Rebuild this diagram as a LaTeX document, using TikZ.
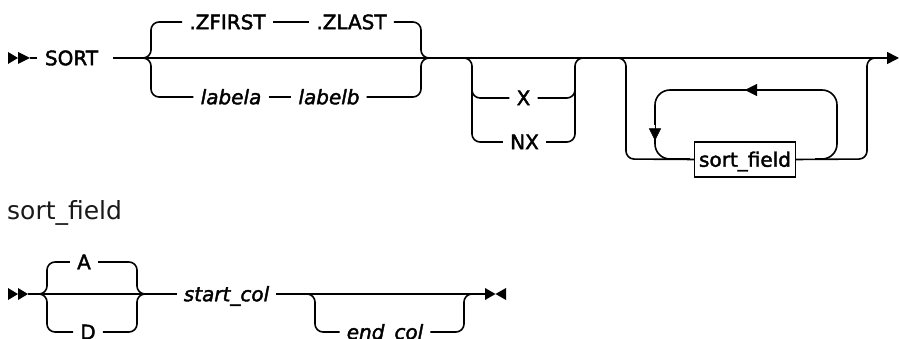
\documentclass[tikz,border=0pt]{standalone}
\usepackage{fontspec}
\newfontfamily\dvsans[FakeBold=2]{DejaVu Sans}
\newfontfamily\dvtitle{DejaVu Sans}
\usetikzlibrary{arrows.meta}
\begin{document}
\begin{tikzpicture}[x=1pt,y=-1pt,
  rail/.style={line width=1.6pt, rounded corners=8pt},
  loopr/.style={line width=1.6pt, rounded corners=15pt},
  kw/.style={font=\dvsans\fontsize{20}{21}\selectfont, inner xsep=7pt, inner ysep=0pt, text height=14.5pt, text depth=0pt, anchor=center},
  var/.style={kw, font=\dvsans\fontsize{20}{21}\selectfont\itshape},
  boxed/.style={kw, draw, line width=1.2pt, minimum width=101pt, minimum height=35pt, inner xsep=3pt},
  ttl/.style={font=\dvtitle\fontsize{25}{26}\selectfont, inner sep=0pt, anchor=west, text=black!90},
  tip/.style={-{Triangle[length=12pt,width=12pt]}}
]
\useasboundingbox (0,0) rectangle (899,339);

% ---------------- main diagram ----------------
\node[kw] (sort) at (71.5,58) {SORT};
\node[kw] (zf) at (227.5,22) {.ZFIRST};
\node[kw] (zl) at (351.5,22) {.ZLAST};
\node[var] (la) at (231,97) {labela};
\node[var] (lb) at (329,97) {labelb};
\node[kw] (x) at (523.5,98) {X};
\node[kw] (nx) at (524.5,142) {NX};
\node[boxed] (sf) at (745,159.5) {sort\_field};
\coordinate (st) at (30,58);
\coordinate (st1) at (37,58);
\coordinate (m1) at (113,58);
\coordinate (mend) at (899,58);

% start marker
\fill (8,52) -- (18,58) -- (8,64) -- cycle;
\fill (18,52) -- (30,58) -- (18,64) -- cycle;
\draw[line width=1.6pt] (st) -- (st1);

% main line
\draw[line width=1.6pt, tip] (m1) -- (mend);

% choice group 1
\draw[rail] (143,58) -- (151,58) -- (151,22) -- (zf.west);
\draw[rail] (143,58) -- (151,58) -- (151,97) -- (la.west);
\draw[line width=1.6pt] (zf.east) -- (zl.west);
\draw[line width=1.6pt] (la.east) -- (lb.west);
\draw[rail] (zl.east) -- (421,22) -- (421,58) -- (429,58);
\draw[rail] (lb.east) -- (421,97) -- (421,58) -- (429,58);

% optional X / NX
\draw[rail] (464,58) -- (472,58) -- (472,142) -- (nx.west);
\draw[rail] (472,85) -- (472,98) -- (x.west);
\draw[rail] (nx.east) -- (575,142) -- (575,58) -- (583,58);
\draw[rail] (x.east) -- (575,98) -- (575,85);

% repeat group
\draw[rail] (618,58) -- (626,58) -- (626,159) -- (sf.west);
\draw[rail] (sf.east) -- (867,159) -- (867,58) -- (875,58);
\draw[loopr] (815,159) -- (837,159) -- (837,90) -- (745,90);
\draw[tip] (760,90) -- (745,90);
\draw[loopr] (750,90) -- (655,90) -- (655,125);
\draw[tip] (655,125) -- (655,140.5);
\draw[loopr] (655,130) -- (655,159) -- (690,159);

% ---------------- sort_field diagram ----------------
\node[ttl] (title) at (7,213) {sort\_field};
\node[kw] (a) at (84,262) {A};
\node[kw] (d) at (88,332) {D};
\node[var] (sc) at (226.5,294) {start\_col};
\node[var] (ec) at (385,332) {end\_col};
\coordinate (st2) at (28,294);
\coordinate (e2) at (485,294);

\fill (8,288) -- (18,294) -- (8,300) -- cycle;
\fill (18,288) -- (28,294) -- (18,300) -- cycle;
\draw[line width=1.6pt] (st2) -- (sc.west);
\draw[line width=1.6pt] (sc.east) -- (e2);

\draw[rail] (39,294) -- (47,294) -- (47,262) -- (a.west);
\draw[rail] (39,294) -- (47,294) -- (47,332) -- (d.west);
\draw[rail] (a.east) -- (137,262) -- (137,294) -- (145,294);
\draw[rail] (d.east) -- (137,332) -- (137,294) -- (145,294);

\draw[rail] (307,294) -- (315,294) -- (315,332) -- (ec.west);
\draw[rail] (ec.east) -- (464,332) -- (464,294) -- (472,294);

% end marker
\fill (485,288) -- (495.5,294) -- (485,300) -- cycle;
\fill (506,288) -- (495.5,294) -- (506,300) -- cycle;
\end{tikzpicture}
\end{document}
